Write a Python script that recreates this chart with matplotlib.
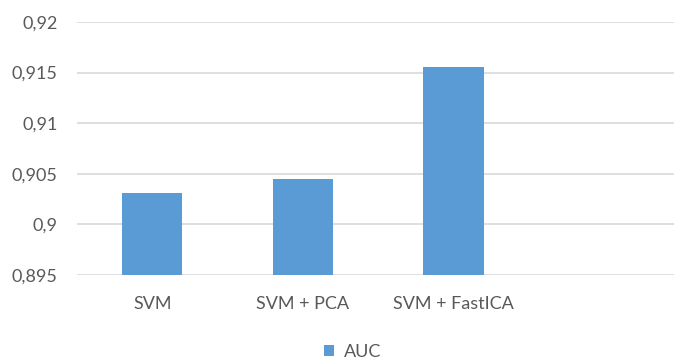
import matplotlib.pyplot as plt
from matplotlib.ticker import FuncFormatter
from matplotlib.patches import Patch

# AUC per model; the fourth slot on the category axis is left empty
models = ["SVM", "SVM + PCA", "SVM + FastICA", ""]
auc = [0.90307, 0.90446, 0.91558]
y_ticks = [0.895, 0.9, 0.905, 0.91, 0.915, 0.92]

bar_color = "#5B9BD5"
text_color = "#595959"
grid_color = "#D9D9D9"

plt.rcParams["font.family"] = ["Lato", "DejaVu Sans"]

fig = plt.figure(figsize=(6.74, 3.61), dpi=100)
ax = fig.add_axes([77 / 674, 1 - 275 / 361, 1 - 77 / 674 + 0.008, (275 - 22) / 361])

ax.bar(range(len(auc)), auc, width=0.4, color=bar_color, zorder=3)

ax.set_xlim(-0.5, 3.5)
ax.set_ylim(0.895, 0.92)
ax.set_yticks(y_ticks)
ax.yaxis.set_major_formatter(
    FuncFormatter(lambda v, _: ("%g" % round(v, 3)).replace(".", ","))
)
ax.set_xticks(range(len(models)))
ax.set_xticklabels(models)

ax.grid(axis="y", color=grid_color, linewidth=1.2, zorder=0)
for side in ["top", "right", "left", "bottom"]:
    ax.spines[side].set_visible(False)
ax.tick_params(axis="both", length=0, labelsize=13, colors=text_color)
ax.tick_params(axis="y", pad=14)
ax.tick_params(axis="x", pad=15)

handles = [Patch(facecolor=bar_color, label="AUC")]
fig.legend(
    handles=handles,
    loc="center",
    bbox_to_anchor=(353 / 674, 1 - 352 / 361),
    frameon=False,
    fontsize=13,
    labelcolor=text_color,
    handlelength=0.55,
    handleheight=0.55,
    handletextpad=0.55,
    borderpad=0.1,
)

fig.savefig("out.png", dpi=100)
